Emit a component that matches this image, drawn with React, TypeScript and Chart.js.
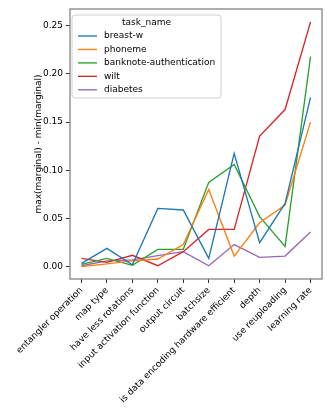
import React, { useEffect, useRef } from "react";
import { Chart, registerables } from "chart.js";

Chart.register(...registerables);

const categories = [
  "entangler operation",
  "map type",
  "have less rotations",
  "input activation function",
  "output circuit",
  "batchsize",
  "is data encoding hardware efficient",
  "depth",
  "use reuploading",
  "learning rate",
];

const seriesNames = ["breast-w", "phoneme", "banknote-authentication", "wilt", "diabetes"];
const seriesColors = ["#1f77b4", "#ff7f0e", "#2ca02c", "#d62728", "#9467bd"];

const breastW = [0.0035, 0.019, 0.002, 0.0605, 0.0588, 0.0086, 0.1176, 0.025, 0.0657, 0.1757];
const phoneme = [0.0, 0.003, 0.006, 0.008, 0.023, 0.08, 0.011, 0.0456, 0.064, 0.15];
const banknote = [0.0024, 0.0086, 0.0014, 0.018, 0.018, 0.0875, 0.106, 0.052, 0.021, 0.218];
const wilt = [0.0086, 0.0045, 0.0118, 0.001, 0.0156, 0.0387, 0.0387, 0.1355, 0.163, 0.254];
const diabetes = [0.001, 0.006, 0.007, 0.0114, 0.0156, 0.001, 0.023, 0.0097, 0.011, 0.036];

const yTicks = [0.0, 0.05, 0.1, 0.15, 0.2, 0.25];
const yTitle = "max(marginal) - min(marginal)";
const legendTitle = "task_name";

const FONT = "'DejaVu Sans', sans-serif";

export default function App() {
  const ref = useRef<HTMLCanvasElement | null>(null);

  useEffect(() => {
    document.body.style.margin = "0";
    const values = [breastW, phoneme, banknote, wilt, diabetes];
    const datasets = values.map((arr, i) => ({
      label: seriesNames[i],
      data: arr.map((v, j) => ({ x: j, y: v })),
      borderColor: seriesColors[i],
      backgroundColor: seriesColors[i],
      borderWidth: 1.35,
      pointRadius: 0,
      tension: 0,
      fill: false,
    }));

    const framePlugin = {
      id: "frame",
      afterDatasetsDraw(chart: any) {
        const { ctx, chartArea } = chart;
        ctx.save();
        ctx.strokeStyle = "#7a7a7a";
        ctx.lineWidth = 1.2;
        ctx.strokeRect(chartArea.left, chartArea.top, chartArea.right - chartArea.left, chartArea.bottom - chartArea.top);
        ctx.restore();
      },
    };

    const legendPlugin = {
      id: "boxLegend",
      afterDraw(chart: any) {
        const ctx = chart.ctx;
        const x0 = 72, y0 = 15, x1 = 221, y1 = 98, r = 3;
        ctx.save();
        ctx.beginPath();
        ctx.moveTo(x0 + r, y0);
        ctx.lineTo(x1 - r, y0);
        ctx.quadraticCurveTo(x1, y0, x1, y0 + r);
        ctx.lineTo(x1, y1 - r);
        ctx.quadraticCurveTo(x1, y1, x1 - r, y1);
        ctx.lineTo(x0 + r, y1);
        ctx.quadraticCurveTo(x0, y1, x0, y1 - r);
        ctx.lineTo(x0, y0 + r);
        ctx.quadraticCurveTo(x0, y0, x0 + r, y0);
        ctx.closePath();
        ctx.fillStyle = "rgba(255,255,255,0.8)";
        ctx.fill();
        ctx.strokeStyle = "#d0d0d0";
        ctx.lineWidth = 1;
        ctx.stroke();
        ctx.font = `9px ${FONT}`;
        ctx.fillStyle = "#000";
        ctx.textBaseline = "middle";
        ctx.textAlign = "center";
        ctx.fillText(legendTitle, (x0 + x1) / 2, 22.5);
        ctx.textAlign = "left";
        chart.data.datasets.forEach((ds: any, i: number) => {
          const y = 36 + i * 13.45;
          ctx.strokeStyle = ds.borderColor;
          ctx.lineWidth = 1.35;
          ctx.beginPath();
          ctx.moveTo(78, y);
          ctx.lineTo(97, y);
          ctx.stroke();
          ctx.fillText(ds.label, 104, y);
        });
        ctx.restore();
      },
    };

    const chart = new Chart(ref.current!, {
      type: "line",
      data: { datasets },
      plugins: [framePlugin, legendPlugin],
      options: {
        animation: false,
        responsive: false,
        maintainAspectRatio: false,
        layout: { padding: { top: 9, right: 10, left: 0, bottom: 0 } },
        plugins: { legend: { display: false }, tooltip: { enabled: false } },
        scales: {
          x: {
            type: "linear",
            min: -0.45,
            max: 9.45,
            afterBuildTicks: (s: any) => {
              s.ticks = categories.map((_, i) => ({ value: i }));
            },
            afterFit: (s: any) => {
              s.height = 136;
            },
            ticks: {
              autoSkip: false,
              maxRotation: 45,
              minRotation: 45,
              padding: 2,
              color: "#000",
              font: { family: FONT, size: 9 },
              callback: (v: any) => categories[v as number] ?? "",
            },
            grid: { drawOnChartArea: false, drawTicks: true, tickLength: 4, color: "#333", lineWidth: 1 },
            border: { display: false },
          },
          y: {
            type: "linear",
            min: -0.01276,
            max: 0.2673,
            afterBuildTicks: (s: any) => {
              s.ticks = yTicks.map((v) => ({ value: v }));
            },
            afterFit: (s: any) => {
              s.width = 70;
            },
            ticks: {
              padding: 3,
              color: "#000",
              font: { family: FONT, size: 9 },
              callback: (v: any) => Number(v).toFixed(2),
            },
            title: {
              display: true,
              text: yTitle,
              color: "#000",
              font: { family: FONT, size: 9 },
              padding: { top: 33, bottom: 0 },
            },
            grid: { drawOnChartArea: false, drawTicks: true, tickLength: 4, color: "#333", lineWidth: 1 },
            border: { display: false },
          },
        },
      },
    } as any);
    return () => chart.destroy();
  }, []);

  return (
    <div style={{ width: 332, height: 415 }}>
      <canvas ref={ref} width={332} height={415} style={{ display: "block", width: 332, height: 415 }} />
    </div>
  );
}
